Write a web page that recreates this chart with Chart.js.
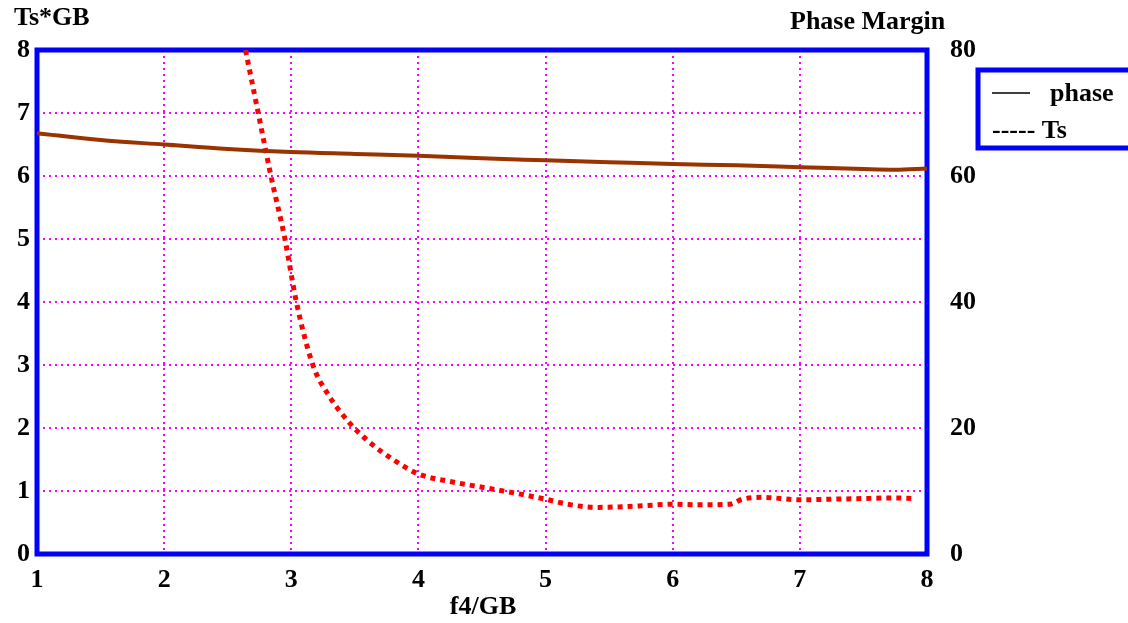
<!DOCTYPE html>
<html>
<head>
<meta charset="utf-8">
<script src="https://cdn.jsdelivr.net/npm/chart.js@4"></script>
<style>
  html, body { margin: 0; padding: 0; background: #fff; }
  #wrap { position: relative; width: 1128px; height: 623px; }
</style>
</head>
<body>
<div id="wrap"><canvas id="chart" width="1128" height="623"></canvas></div>
<script>
'use strict';

// phase margin curve (right axis, degrees)
const phaseX = [1, 1.5, 2, 2.5, 3, 3.5, 4, 4.5, 5, 5.5, 6, 6.5, 7, 7.5, 7.75, 8];
const phaseY = [66.8, 65.7, 65.0, 64.3, 63.8, 63.5, 63.2, 62.8, 62.5, 62.2, 61.9, 61.7, 61.4, 61.1, 61.0, 61.2];

// Ts*GB curve (left axis)
const tsX = [2.64, 2.74, 2.84, 2.95, 3.04, 3.17, 3.3, 3.45, 3.6, 3.8, 4.0, 4.25, 4.5, 4.75, 5.0, 5.2, 5.4, 5.6, 5.8, 6.0, 6.2, 6.45, 6.55, 6.7, 7.0, 7.25, 7.5, 7.75, 7.9];
const tsY = [8, 7, 6, 5, 4, 3, 2.5, 2.1, 1.8, 1.5, 1.27, 1.15, 1.06, 0.97, 0.87, 0.78, 0.74, 0.75, 0.77, 0.79, 0.78, 0.79, 0.87, 0.9, 0.86, 0.87, 0.88, 0.89, 0.88];

const xTicks = [1, 2, 3, 4, 5, 6, 7, 8];
const leftTicks = [0, 1, 2, 3, 4, 5, 6, 7, 8];
const rightTicks = [0, 20, 40, 60, 80];

const FONT = '"Liberation Serif", "Times New Roman", serif';
const tickFont = { family: FONT, size: 26, weight: 'bold' };

function pairs(xs, ys) {
  return xs.map((x, i) => ({ x: x, y: ys[i] }));
}

const decorations = {
  id: 'decorations',
  beforeDatasetsDraw(chart) {
    const ctx = chart.ctx;
    const a = chart.chartArea;
    ctx.save();
    ctx.strokeStyle = '#0000ff';
    ctx.lineWidth = 5;
    ctx.strokeRect(a.left, a.top, a.right - a.left, a.bottom - a.top);
    ctx.restore();
  },
  afterDraw(chart) {
    const ctx = chart.ctx;
    ctx.save();
    ctx.fillStyle = '#000';
    ctx.font = 'bold 26px ' + FONT;
    ctx.textBaseline = 'middle';
    ctx.textAlign = 'left';
    ctx.fillText('Ts*GB', 14, 18);
    ctx.fillText('Phase Margin', 790, 22);
    ctx.textAlign = 'center';
    ctx.fillText('f4/GB', 483, 607);

    // legend box
    ctx.strokeStyle = '#0000ff';
    ctx.lineWidth = 5;
    ctx.strokeRect(978, 70, 160, 78);
    ctx.strokeStyle = '#000';
    ctx.lineWidth = 1.5;
    ctx.beginPath();
    ctx.moveTo(992, 93);
    ctx.lineTo(1030, 93);
    ctx.stroke();
    ctx.textAlign = 'left';
    ctx.fillText('phase', 1050, 94);
    ctx.fillText('----- Ts', 992, 131);
    ctx.restore();
  },
};

const config = {
  type: 'line',
  data: {
    datasets: [
      {
        label: 'phase',
        data: pairs(phaseX, phaseY),
        yAxisID: 'y1',
        borderColor: '#993300',
        borderWidth: 4,
        pointRadius: 0,
        cubicInterpolationMode: 'monotone',
      },
      {
        label: 'Ts',
        data: pairs(tsX, tsY),
        yAxisID: 'y',
        borderColor: '#ff0000',
        borderWidth: 5,
        borderDash: [5, 5],
        borderCapStyle: 'butt',
        pointRadius: 0,
        cubicInterpolationMode: 'monotone',
      },
    ],
  },
  options: {
    responsive: false,
    animation: false,
    layout: { padding: { top: 50, left: 0, right: 0, bottom: 0 } },
    plugins: {
      legend: { display: false },
      tooltip: { enabled: false },
    },
    scales: {
      x: {
        type: 'linear',
        min: 1,
        max: 8,
        afterBuildTicks: (s) => { s.ticks = xTicks.map((v) => ({ value: v })); },
        afterFit: (s) => { s.height = 69; },
        grid: { color: '#ff00ff', lineWidth: 2, drawTicks: false },
        border: { display: false, dash: [2, 4] },
        ticks: { font: tickFont, color: '#000', padding: 11, maxRotation: 0 },
      },
      y: {
        position: 'left',
        min: 0,
        max: 8,
        afterBuildTicks: (s) => { s.ticks = leftTicks.map((v) => ({ value: v })); },
        afterFit: (s) => { s.width = 37; },
        grid: { color: '#ff00ff', lineWidth: 2, drawTicks: false },
        border: { display: false, dash: [2, 4] },
        ticks: { font: tickFont, color: '#000', padding: 7 },
      },
      y1: {
        position: 'right',
        min: 0,
        max: 80,
        afterBuildTicks: (s) => { s.ticks = rightTicks.map((v) => ({ value: v })); },
        afterFit: (s) => { s.width = 201; },
        grid: { display: false },
        border: { display: false },
        ticks: { font: tickFont, color: '#000', padding: 15 },
      },
    },
  },
  plugins: [decorations],
};

new Chart(document.getElementById('chart'), config);
</script>
</body>
</html>
